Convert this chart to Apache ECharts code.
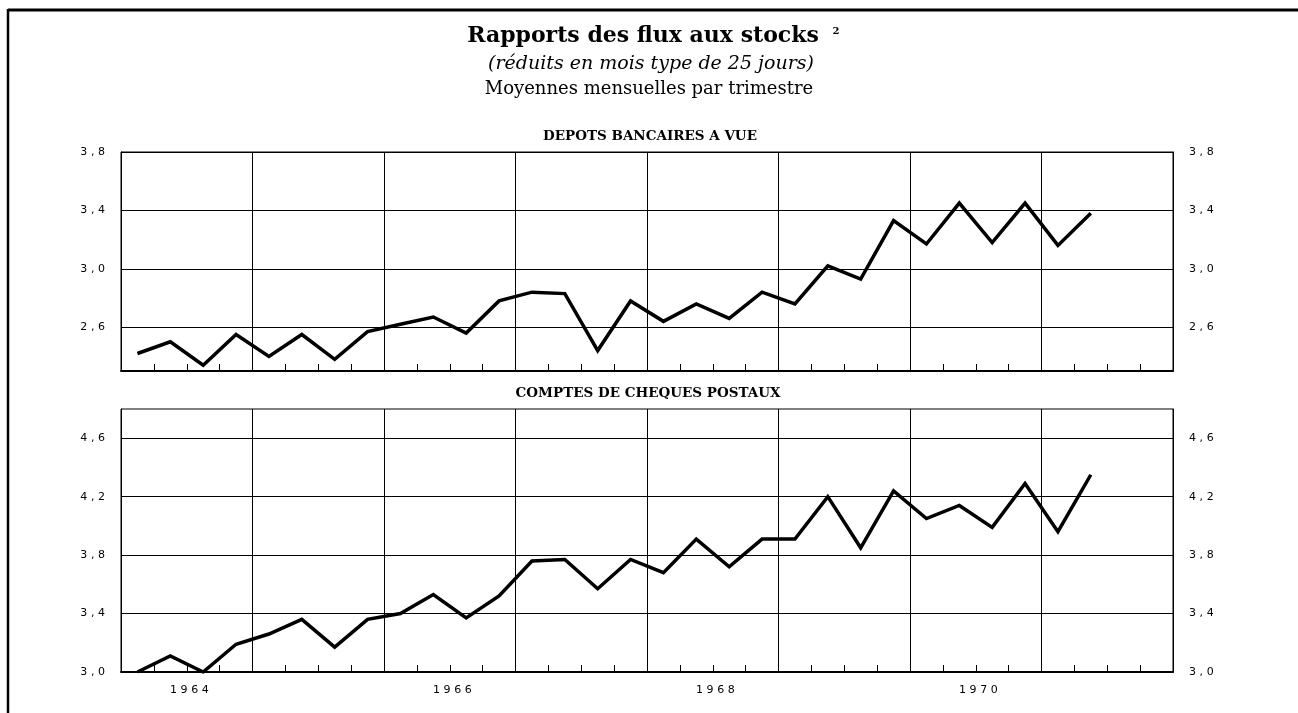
<!DOCTYPE html>
<html>
<head>
<meta charset="utf-8">
<script src="https://cdn.jsdelivr.net/npm/echarts@6/dist/echarts.min.js"></script>
<style>
  html, body { margin: 0; padding: 0; background: #fff; }
  #chart { width: 1298px; height: 713px; }
</style>
</head>
<body>
<div id="chart"></div>
<script>
// Quarterly observations, 1964 T1 to 1971 T2
const quarters = [
  '1964-T1', '1964-T2', '1964-T3', '1964-T4',
  '1965-T1', '1965-T2', '1965-T3', '1965-T4',
  '1966-T1', '1966-T2', '1966-T3', '1966-T4',
  '1967-T1', '1967-T2', '1967-T3', '1967-T4',
  '1968-T1', '1968-T2', '1968-T3', '1968-T4',
  '1969-T1', '1969-T2', '1969-T3', '1969-T4',
  '1970-T1', '1970-T2', '1970-T3', '1970-T4',
  '1971-T1', '1971-T2'
];

// Dépôts bancaires à vue
const depotsBancaires = [
  2.42, 2.50, 2.34, 2.55, 2.40, 2.55, 2.38, 2.57,
  2.62, 2.67, 2.56, 2.78, 2.84, 2.83, 2.44, 2.78,
  2.64, 2.76, 2.66, 2.84, 2.76, 3.02, 2.93, 3.33,
  3.17, 3.45, 3.18, 3.45, 3.16, 3.38
];

// Comptes de chèques postaux
const chequesPostaux = [
  3.00, 3.11, 3.00, 3.19, 3.26, 3.36, 3.17, 3.36,
  3.40, 3.53, 3.37, 3.52, 3.76, 3.77, 3.57, 3.77,
  3.68, 3.91, 3.72, 3.91, 3.91, 4.20, 3.85, 4.24,
  4.05, 4.14, 3.99, 4.29, 3.96, 4.35
];

const yearLabels = [1964, 1966, 1968, 1970];
const depotsTicks = [2.6, 3.0, 3.4, 3.8];
const chequesTicks = [3.0, 3.4, 3.8, 4.2, 4.6];

// quarter "YYYY-Tn" -> position in the middle of that quarter on a year scale
function quarterPos(q) {
  const [y, t] = q.split('-T');
  return Number(y) + (Number(t) - 0.5) / 4;
}
function pairs(values) {
  return values.map((v, i) => [quarterPos(quarters[i]), v]);
}
// widely tracked figures, as in the printed axis lettering
function spaced(s) {
  return String(s).split('').join('\u2004');
}
function decimalComma(v) {
  return spaced(v.toFixed(1).replace('.', ','));
}

const ink = '#000';
const axisFont = { color: ink, fontFamily: 'DejaVu Sans', fontSize: 11 };
const serif = 'DejaVu Serif';

function xAxisFor(gridIndex, withLabels) {
  return {
    type: 'value', gridIndex, min: 1964, max: 1972, interval: 1,
    axisLine: { show: true, onZero: false, lineStyle: { color: ink, width: 2 } },
    axisTick: { show: true, inside: true, length: 7, lineStyle: { color: ink, width: 1 } },
    minorTick: { show: true, splitNumber: 4, length: 7, lineStyle: { color: ink, width: 1 } },
    splitLine: { show: true, lineStyle: { color: ink, width: 1 } },
    axisLabel: withLabels ? Object.assign({
      customValues: yearLabels.map(y => y + 0.52),
      formatter: v => spaced(Math.floor(v)),
      margin: 13
    }, axisFont) : { show: false }
  };
}

function yAxesFor(gridIndex, min, max, ticks) {
  const base = {
    type: 'value', gridIndex, min, max,
    axisLine: { show: true, lineStyle: { color: ink, width: 1 } },
    axisTick: { show: false, customValues: ticks },
    axisLabel: Object.assign({ customValues: ticks, formatter: decimalComma, margin: 16 }, axisFont)
  };
  return [
    Object.assign({}, base, { position: 'left', splitLine: { show: true, lineStyle: { color: ink, width: 1 } } }),
    Object.assign({}, base, { position: 'right', splitLine: { show: false } })
  ];
}

function lineSeries(index, values) {
  return {
    type: 'line', xAxisIndex: index, yAxisIndex: index * 2,
    data: pairs(values), symbol: 'none', silent: true,
    lineStyle: { color: ink, width: 3.5, join: 'miter', cap: 'butt' }
  };
}

function label(text, x, y, size, weight, fontStyle) {
  return {
    type: 'text', x, y, silent: true,
    style: {
      text, fill: ink,
      fontFamily: serif, fontSize: size, fontWeight: weight || 'normal', fontStyle: fontStyle || 'normal',
      align: 'center', verticalAlign: 'middle', textAlign: 'center', textVerticalAlign: 'middle'
    }
  };
}

const chart = echarts.init(document.getElementById('chart'), null, { renderer: 'canvas' });
chart.setOption({
  backgroundColor: '#fff',
  animation: false,
  grid: [
    { left: 121, right: 125, top: 152, height: 219, show: true, borderColor: ink, borderWidth: 1, backgroundColor: 'transparent' },
    { left: 121, right: 125, top: 409, height: 263, show: true, borderColor: ink, borderWidth: 1, backgroundColor: 'transparent' }
  ],
  xAxis: [xAxisFor(0, false), xAxisFor(1, true)],
  yAxis: [].concat(yAxesFor(0, 2.3, 3.8, depotsTicks), yAxesFor(1, 3.0, 4.8, chequesTicks)),
  series: [lineSeries(0, depotsBancaires), lineSeries(1, chequesPostaux)],
  graphic: [
    { type: 'line', silent: true, shape: { x1: 8, y1: 10, x2: 1298, y2: 10 }, style: { stroke: ink, lineWidth: 3 } },
    { type: 'line', silent: true, shape: { x1: 8, y1: 9, x2: 8, y2: 713 }, style: { stroke: ink, lineWidth: 2.5 } },
    label('Rapports des flux aux stocks', 643, 36, 22, 'bold'),
    label('2', 836, 31, 10, 'bold'),
    label('(réduits en mois type de 25 jours)', 651, 64, 19, 'normal', 'italic'),
    label('Moyennes mensuelles par trimestre', 649, 89, 18),
    label('DEPOTS BANCAIRES A VUE', 650, 136, 13.5, 'bold'),
    label('COMPTES DE CHEQUES POSTAUX', 648, 393, 13.5, 'bold')
  ]
});
</script>
</body>
</html>
